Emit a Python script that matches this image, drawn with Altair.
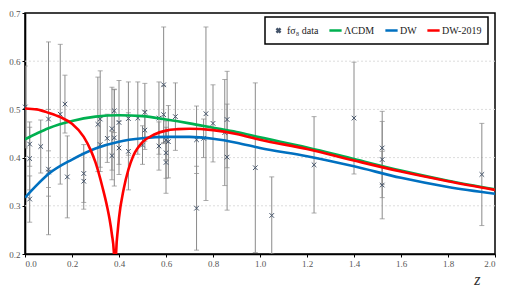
import altair as alt
import pandas as pd

# ---- data ----
pt_z = [0.001, 0.02, 0.02, 0.02, 0.067, 0.10, 0.10, 0.10, 0.15, 0.17, 0.18,
        0.25, 0.25, 0.31, 0.32, 0.32, 0.35, 0.37, 0.37, 0.38, 0.38, 0.40, 0.40,
        0.44, 0.44, 0.48, 0.50, 0.51, 0.51, 0.57, 0.57, 0.59, 0.59, 0.60, 0.60,
        0.60, 0.61, 0.64, 0.73, 0.73, 0.76, 0.77, 0.80, 0.85, 0.86, 0.86, 0.98,
        1.05, 1.23, 1.40, 1.52, 1.52, 1.52, 1.944]
pt_v = [0.505, 0.428, 0.398, 0.314, 0.423, 0.480, 0.376, 0.370, 0.490, 0.511, 0.360,
        0.367, 0.351, 0.469, 0.480, 0.427, 0.440, 0.460, 0.404, 0.497, 0.441, 0.473, 0.420,
        0.481, 0.413, 0.482, 0.426, 0.494, 0.457, 0.482, 0.424, 0.551, 0.489, 0.436, 0.410,
        0.390, 0.433, 0.485, 0.437, 0.295, 0.440, 0.491, 0.471, 0.452, 0.479, 0.401, 0.379,
        0.280, 0.385, 0.482, 0.420, 0.396, 0.343, 0.365]
pt_err = [0.085, 0.046, 0.065, 0.048, 0.055, 0.160, 0.038, 0.130, 0.145, 0.060, 0.085,
          0.060, 0.058, 0.098, 0.100, 0.056, 0.050, 0.086, 0.050, 0.045, 0.100, 0.087, 0.055,
          0.076, 0.080, 0.075, 0.040, 0.060, 0.040, 0.075, 0.050, 0.120, 0.060, 0.040, 0.053,
          0.064, 0.075, 0.070, 0.070, 0.087, 0.040, 0.180, 0.080, 0.110, 0.100, 0.110, 0.176,
          0.080, 0.100, 0.116, 0.076, 0.079, 0.070, 0.106]

model_z = [0, 0.05, 0.1, 0.2, 0.3, 0.4, 0.5, 0.6, 0.7, 0.8, 0.9, 1.0, 1.2, 1.4, 1.6, 1.8, 2.0]
lcdm_v = [0.438, 0.450, 0.461, 0.476, 0.485, 0.488, 0.486, 0.479, 0.471, 0.462, 0.453,
          0.442, 0.421, 0.397, 0.373, 0.352, 0.334]
dw_v = [0.317, 0.343, 0.366, 0.396, 0.419, 0.433, 0.440, 0.443, 0.443, 0.439, 0.431,
        0.420, 0.403, 0.382, 0.358, 0.339, 0.325]
dw19_z = [0, 0.05, 0.1, 0.15, 0.2, 0.25, 0.28, 0.3, 0.33, 0.35, 0.36, 0.37, 0.378, 0.383,
          0.388, 0.395, 0.40, 0.42, 0.44, 0.46, 0.48, 0.5, 0.55, 0.6, 0.65, 0.7, 0.8, 0.9,
          1.0, 1.2, 1.4, 1.6, 1.8, 2.0]
dw19_v = [0.502, 0.500, 0.493, 0.484, 0.470, 0.443, 0.415, 0.390, 0.338, 0.297, 0.272,
          0.240, 0.205, 0.120, 0.205, 0.250, 0.275, 0.335, 0.375, 0.403, 0.420, 0.432,
          0.448, 0.456, 0.459, 0.460, 0.457, 0.449, 0.437, 0.418, 0.394, 0.371, 0.351, 0.333]

series_names = ["fσ₈ data", "ΛCDM", "DW", "DW-2019"]
series_colors = ["#44546a", "#00b050", "#0070c0", "#ff0000"]
series_shapes = ["M-0.33,-0.33L0.33,0.33M0.33,-0.33L-0.33,0.33", "stroke", "stroke", "stroke"]
x_ticks = [0, 0.2, 0.4, 0.6, 0.8, 1.0, 1.2, 1.4, 1.6, 1.8, 2.0]
y_ticks = [0.2, 0.3, 0.4, 0.5, 0.6, 0.7]
grid_vals = [0.3, 0.4, 0.5, 0.6]

# ---- tables ----
pts = pd.DataFrame({"z": pt_z, "v": pt_v, "err": pt_err})
pts["series"] = series_names[0]

lines = pd.concat([
    pd.DataFrame({"z": model_z, "v": lcdm_v, "series": series_names[1], "o": 1}),
    pd.DataFrame({"z": model_z, "v": dw_v, "series": series_names[2], "o": 2}),
    pd.DataFrame({"z": dw19_z, "v": dw19_v, "series": series_names[3], "o": 3}),
])
grid = pd.DataFrame({"v": grid_vals})

xs = alt.Scale(domain=[0, 2], nice=False)
ys = alt.Scale(domain=[0.2, 0.7], nice=False)


def make_legend():
    return alt.Legend(title=None, orient="none", legendX=240, legendY=4,
                      direction="horizontal", columns=4, gridAlign="none",
                      strokeColor="black", fillColor="white",
                      padding=6, symbolSize=150, symbolStrokeWidth=2.5,
                      labelFont="Liberation Serif", labelFontSize=10,
                      labelColor="#222", labelOffset=1, columnPadding=5)


color = alt.Color("series:N", scale=alt.Scale(domain=series_names, range=series_colors),
                  legend=make_legend())
shape = alt.Shape("series:N", scale=alt.Scale(domain=series_names, range=series_shapes),
                  legend=make_legend())

x_enc = alt.X("z:Q", scale=xs,
              axis=alt.Axis(values=x_ticks, format=".1f", grid=False, title="z",
                            titleFont="Liberation Serif", titleFontStyle="italic",
                            titleFontSize=16, titleFontWeight="normal", titleColor="#333",
                            titleAlign="right", titleX=455, titleY=17))
y_enc = alt.Y("v:Q", scale=ys,
              axis=alt.Axis(values=y_ticks, format=".1f", title=None, grid=False))

gridlines = alt.Chart(grid).mark_rule(color="#dcdcdc", strokeWidth=1, strokeDash=[2, 2]).encode(
    y=alt.Y("v:Q", scale=ys))

base_pts = alt.Chart(pts).transform_calculate(lo="datum.v - datum.err", hi="datum.v + datum.err")

bars = base_pts.mark_rule(color="#8a8a8a", strokeWidth=1, clip=True).encode(
    x=alt.X("z:Q", scale=xs), y=alt.Y("lo:Q", scale=ys), y2="hi:Q")
cap_lo = base_pts.mark_tick(color="#8a8a8a", orient="horizontal", size=5, thickness=1,
                            clip=True).encode(x=alt.X("z:Q", scale=xs), y=alt.Y("lo:Q", scale=ys))
cap_hi = base_pts.mark_tick(color="#8a8a8a", orient="horizontal", size=5, thickness=1,
                            clip=True).encode(x=alt.X("z:Q", scale=xs), y=alt.Y("hi:Q", scale=ys))

curves = alt.Chart(lines).mark_line(strokeWidth=2.6, interpolate="monotone", clip=True).encode(
    x=x_enc, y=y_enc, color=color, detail="series:N", order="o:Q")

marks = alt.Chart(pts).mark_point(filled=False, size=196, strokeWidth=1.0, opacity=1).encode(
    x=alt.X("z:Q", scale=xs), y=alt.Y("v:Q", scale=ys), color=color, shape=shape)

chart = alt.layer(gridlines, bars, cap_lo, cap_hi, marks, curves).properties(
    width=490, height=279,
    autosize=alt.AutoSizeParams(type="fit", contains="padding"),
    padding={"left": 0, "top": 1, "right": 2, "bottom": 0},
).configure_view(stroke="black", strokeWidth=1.5).configure_axis(
    labelFont="Liberation Serif", labelFontSize=9, labelColor="#555",
    domainColor="black", domainWidth=1.6, tickColor="black", tickSize=3,
    labelPadding=2,
).configure_legend(strokeWidth=1.5)

chart.save("out.html", embed_options={"renderer": "svg", "actions": False})
